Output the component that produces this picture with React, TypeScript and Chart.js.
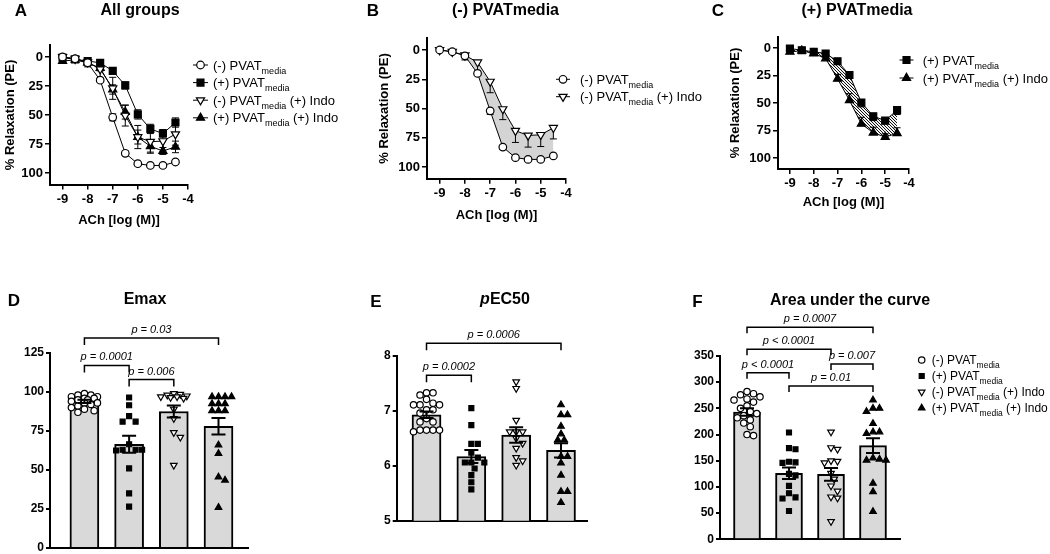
import React, { useEffect, useRef } from "react";
import { Chart, registerables } from "chart.js";

Chart.register(...registerables);

const FONT = "'Liberation Sans', Arial, Helvetica, sans-serif";
const PAGE_W = 1050;
const PAGE_H = 554;
const CANVAS_H = 620;

// ---------------- data ----------------
const GROUPS = ["(-) PVATmedia", "(+) PVATmedia", "(-) PVATmedia (+) Indo", "(+) PVATmedia (+) Indo"];

const LOG_ACH = [-9, -8.5, -8, -7.5, -7, -6.5, -6, -5.5, -5, -4.5];
const LOG_TICKS = [-9, -8, -7, -6, -5, -4];
const RELAX_TICKS = [0, 25, 50, 75, 100];

const RELAX_MINUS = [0, 1.5, 5, 20, 52, 83, 92, 93.5, 93.5, 90.5];
const RELAX_MINUS_SEM = [0.5, 0.5, 1, 1.5, 3, 2, 1, 1, 1, 1];
const RELAX_PLUS = [0.5, 2, 3.5, 5, 12, 24.5, 49.5, 62, 66, 56.5];
const RELAX_PLUS_SEM = [1, 1, 1, 1.5, 2, 3, 4, 4, 3, 4];
const RELAX_MINUS_INDO = [0, 1.5, 4.5, 10.5, 27, 50.5, 69, 73, 72.5, 66.5];
const RELAX_MINUS_INDO_SEM = [0.5, 1, 4, 7.5, 9.5, 9, 10, 10, 10, 9.5];
const RELAX_PLUS_INDO = [3.5, 2.5, 5, 9.5, 28, 47.5, 69, 77, 81, 77.5];
const RELAX_PLUS_INDO_SEM = [1, 1, 1.5, 2.5, 4, 6, 6, 5, 3, 5];

const EMAX_TICKS = [0, 25, 50, 75, 100, 125];
const EMAX_MEAN = [94, 66.5, 87.5, 78];
const EMAX_SEM = [1, 5.5, 3.8, 5.3];
const EMAX_MINUS = [99, 98, 98, 97, 97, 96, 96, 95, 95, 94, 93, 93, 92, 91, 90, 89, 88, 87];
const EMAX_PLUS = [96.5, 91.5, 84.5, 81, 81, 66.5, 63, 63, 63, 62.5, 51, 35, 26.5];
const EMAX_MINUS_INDO = [99, 98.5, 98, 97.5, 97, 97, 96.5, 96, 89, 83, 74, 71, 53];
const EMAX_PLUS_INDO = [97, 97, 97, 97, 92.5, 92.5, 92.5, 88, 88, 88, 66, 60.5, 45.5, 43.5, 26];
const EMAX_P = [
  { from: 0, to: 3, level: 134.6, text: "p = 0.03" },
  { from: 0, to: 1, level: 117, text: "p = 0.0001" },
  { from: 1, to: 2, level: 108, text: "p = 0.006" },
];

const PEC_TICKS = [5, 6, 7, 8];
const PEC_MEAN = [6.93, 6.17, 6.56, 6.28];
const PEC_SEM = [0.06, 0.12, 0.14, 0.13];
const PEC_MINUS = [7.33, 7.33, 7.29, 7.21, 7.14, 7.11, 7.11, 7.11, 7.02, 7.02, 6.96, 6.86, 6.8, 6.8, 6.65, 6.65, 6.65, 6.65, 6.62];
const PEC_PLUS = [7.05, 6.74, 6.4, 6.4, 6.24, 6.15, 6.06, 6.06, 6.06, 5.95, 5.83, 5.7, 5.57];
const PEC_MINUS_INDO = [7.53, 7.41, 6.83, 6.62, 6.62, 6.62, 6.5, 6.41, 6.32, 6.15, 6.09, 6.01];
const PEC_PLUS_INDO = [7.11, 6.93, 6.93, 6.72, 6.58, 6.47, 6.47, 6.17, 6.17, 6.05, 5.83, 5.53, 5.53, 5.33];
const PEC_P = [
  { from: 0, to: 3, level: 8.23, text: "p = 0.0006" },
  { from: 0, to: 1, level: 7.65, text: "p = 0.0002" },
];

const AUC_TICKS = [0, 50, 100, 150, 200, 250, 300, 350];
const AUC_MEAN = [243, 126, 124, 179];
const AUC_SEM = [7, 11, 12, 14];
const AUC_MINUS = [282, 278, 276, 272, 268, 266, 262, 255, 250, 244, 240, 236, 232, 228, 222, 215, 200, 198];
const AUC_PLUS = [204, 174, 172, 148, 147, 146, 125, 122, 102, 88, 80, 78, 54];
const AUC_MINUS_INDO = [205, 175, 172, 150, 149, 146, 126, 115, 102, 92, 81, 79, 34];
const AUC_PLUS_INDO = [266, 250, 250, 244, 221, 205, 205, 202, 155, 153, 151, 151, 107, 91, 53];
const AUC_P = [
  { from: 0, to: 3, level: 404.8, text: "p = 0.0007" },
  { from: 0, to: 2, level: 362.8, text: "p < 0.0001" },
  { from: 0, to: 1, level: 318.1, text: "p < 0.0001" },
  { from: 2, to: 3, level: 334.7, text: "p = 0.007" },
  { from: 1, to: 3, level: 292.7, text: "p = 0.01" },
];

// ---------------- styles ----------------
const GROUP_STYLE = [
  { style: "circle", rot: 0, fill: "#ffffff", rTop: 3.8, rBot: 3.2 },
  { style: "rect", rot: 0, fill: "#000000", rTop: 4.9, rBot: 3.5 },
  { style: "triangle", rot: 180, fill: "#ffffff", rTop: 4.7, rBot: 3.8 },
  { style: "triangle", rot: 0, fill: "#000000", rTop: 4.7, rBot: 3.8 },
];

type Area = { l: number; t: number; r: number; b: number };

function legendParts(name: string) {
  const i = name.indexOf("media");
  if (i < 0) return [{ t: name, sub: false }];
  return [
    { t: name.slice(0, i), sub: false },
    { t: "media", sub: true },
    { t: name.slice(i + 5), sub: false },
  ];
}

function drawMarker(ctx: CanvasRenderingContext2D, g: number, x: number, y: number, r: number, bw: number) {
  const st = GROUP_STYLE[g];
  ctx.beginPath();
  if (st.style === "circle") {
    ctx.arc(x, y, r, 0, Math.PI * 2);
  } else if (st.style === "rect") {
    const s = r * Math.SQRT1_2;
    ctx.rect(x - s, y - s, 2 * s, 2 * s);
  } else {
    const k = st.rot === 180 ? -1 : 1;
    ctx.moveTo(x, y - k * r);
    ctx.lineTo(x + 0.866 * r, y + k * 0.5 * r);
    ctx.lineTo(x - 0.866 * r, y + k * 0.5 * r);
    ctx.closePath();
  }
  ctx.fillStyle = st.fill;
  ctx.fill();
  ctx.lineWidth = bw;
  ctx.strokeStyle = "#000";
  ctx.stroke();
}

function legendPlugin(cfg: any) {
  return {
    id: "customLegend",
    afterDraw(chart: any) {
      const ctx: CanvasRenderingContext2D = chart.ctx;
      ctx.save();
      cfg.groups.forEach((g: number, i: number) => {
        const y = cfg.y + i * cfg.dy;
        if (cfg.half > 0) {
          ctx.beginPath();
          ctx.moveTo(cfg.x - cfg.half, y);
          ctx.lineTo(cfg.x + cfg.half, y);
          ctx.strokeStyle = "#000";
          ctx.lineWidth = 1;
          ctx.stroke();
        }
        drawMarker(ctx, g, cfg.x, y, cfg.r[g], 1.2);
        let tx = cfg.textX;
        ctx.fillStyle = "#000";
        ctx.textAlign = "left";
        ctx.textBaseline = "alphabetic";
        for (const part of legendParts(GROUPS[g])) {
          ctx.font = `${part.sub ? cfg.sub : cfg.size}px ${FONT}`;
          const yy = y + cfg.size * 0.36 + (part.sub ? cfg.size * 0.3 : 0);
          ctx.fillText(part.t, tx, yy);
          tx += ctx.measureText(part.t).width;
        }
      });
      ctx.restore();
    },
  };
}

function curveErrorPlugin(sets: any[]) {
  return {
    id: "curveErrors",
    beforeDatasetsDraw(chart: any) {
      const ctx: CanvasRenderingContext2D = chart.ctx;
      const xs = chart.scales.x;
      const ys = chart.scales.y;
      const cap = 3.5;
      ctx.save();
      ctx.strokeStyle = "#000";
      ctx.lineWidth = 1;
      for (const s of sets) {
        s.values.forEach((v: number, i: number) => {
          const e = s.errs[i];
          const x = xs.getPixelForValue(LOG_ACH[i]);
          const lo = s.dir > 0 ? v : v - e;
          const hi = s.dir < 0 ? v : v + e;
          const y1 = ys.getPixelForValue(lo);
          const y2 = ys.getPixelForValue(hi);
          ctx.beginPath();
          ctx.moveTo(x, y1);
          ctx.lineTo(x, y2);
          if (s.dir <= 0) {
            ctx.moveTo(x - cap, y1);
            ctx.lineTo(x + cap, y1);
          }
          if (s.dir >= 0) {
            ctx.moveTo(x - cap, y2);
            ctx.lineTo(x + cap, y2);
          }
          ctx.stroke();
        });
      }
      ctx.restore();
    },
  };
}

function semPlugin(means: number[], sems: number[]) {
  return {
    id: "semBars",
    afterDatasetsDraw(chart: any) {
      const ctx: CanvasRenderingContext2D = chart.ctx;
      const xs = chart.scales.x;
      const ys = chart.scales.y;
      const cap = 7;
      ctx.save();
      ctx.strokeStyle = "#000";
      ctx.lineWidth = 2;
      means.forEach((m, i) => {
        const x = xs.getPixelForValue(i);
        const y1 = ys.getPixelForValue(m + sems[i]);
        const y2 = ys.getPixelForValue(m - sems[i]);
        ctx.beginPath();
        ctx.moveTo(x, y1);
        ctx.lineTo(x, y2);
        ctx.moveTo(x - cap, y1);
        ctx.lineTo(x + cap, y1);
        ctx.moveTo(x - cap, y2);
        ctx.lineTo(x + cap, y2);
        ctx.stroke();
      });
      ctx.restore();
    },
  };
}

function bracketPlugin(list: any[], drop: number) {
  return {
    id: "brackets",
    afterDraw(chart: any) {
      const ctx: CanvasRenderingContext2D = chart.ctx;
      const xs = chart.scales.x;
      const ys = chart.scales.y;
      ctx.save();
      ctx.strokeStyle = "#000";
      ctx.lineWidth = 1.5;
      ctx.fillStyle = "#000";
      ctx.font = `italic 11px ${FONT}`;
      ctx.textAlign = "center";
      ctx.textBaseline = "alphabetic";
      for (const b of list) {
        const x1 = xs.getPixelForValue(b.from);
        const x2 = xs.getPixelForValue(b.to);
        const y = ys.getPixelForValue(b.level);
        ctx.beginPath();
        ctx.moveTo(x1, y + drop);
        ctx.lineTo(x1, y);
        ctx.lineTo(x2, y);
        ctx.lineTo(x2, y + drop);
        ctx.stroke();
        ctx.fillText(b.text, (x1 + x2) / 2, y - 5);
      }
      ctx.restore();
    },
  };
}

// horizontal spreading of overlapping points (layout only, values untouched)
function swarm(values: number[], pxPerY: number, pxPerX: number, d: number, maxOff: number): number[] {
  const idx = values.map((_, i) => i).sort((a, b) => values[b] - values[a]);
  const placed: { x: number; y: number }[] = [];
  const out = new Array(values.length).fill(0);
  const step = d * 0.5;
  for (const i of idx) {
    const y = values[i] * pxPerY;
    let chosen = 0;
    let bestScore = -1;
    for (let k = 0; k < 60; k++) {
      const c = k === 0 ? 0 : (k % 2 === 1 ? 1 : -1) * Math.ceil(k / 2) * step;
      if (Math.abs(c) > maxOff) break;
      let minD = Infinity;
      for (const p of placed) minD = Math.min(minD, Math.hypot(p.x - c, p.y - y));
      if (minD >= d) {
        chosen = c;
        break;
      }
      if (minD > bestScore + 0.01) {
        bestScore = minD;
        chosen = c;
      }
    }
    placed.push({ x: chosen, y });
    out[i] = chosen / pxPerX;
  }
  return out;
}

function makeHatch(): CanvasPattern | string {
  const n = 3;
  const c = document.createElement("canvas");
  c.width = n;
  c.height = n;
  const g = c.getContext("2d");
  if (!g) return "#888";
  g.fillStyle = "#f2f2f2";
  g.fillRect(0, 0, n, n);
  g.strokeStyle = "#111";
  g.lineWidth = 1;
  g.beginPath();
  g.moveTo(-1, -1);
  g.lineTo(n + 1, n + 1);
  g.moveTo(-1, n - 1);
  g.lineTo(1, n + 1);
  g.moveTo(n - 1, -1);
  g.lineTo(n + 1, 1);
  g.stroke();
  return g.createPattern(c, "repeat") || "#888";
}

function padFor(area: Area, yW: number, xH: number) {
  return { left: area.l - yW, top: area.t, right: PAGE_W - area.r, bottom: CANVAS_H - area.b - xH };
}

const tickFontTop = { family: FONT, size: 13, weight: "bold" as const };
const titleFontTop = { family: FONT, size: 13, weight: "bold" as const };
const tickFontBot = { family: FONT, size: 12, weight: "bold" as const };

// ---------------- panel specs ----------------
const CURVE_PANELS = [
  {
    area: { l: 50, t: 45.4, r: 188, b: 184.6 },
    yW: 47.8,
    xH: 43.2,
    series: [
      { values: RELAX_MINUS, errs: RELAX_MINUS_SEM, group: 0, dir: 0, fill: "" },
      { values: RELAX_PLUS, errs: RELAX_PLUS_SEM, group: 1, dir: 0, fill: "" },
      { values: RELAX_MINUS_INDO, errs: RELAX_MINUS_INDO_SEM, group: 2, dir: 0, fill: "" },
      { values: RELAX_PLUS_INDO, errs: RELAX_PLUS_INDO_SEM, group: 3, dir: 0, fill: "" },
    ],
    legend: { groups: [0, 1, 2, 3], x: 200.5, half: 7.5, textX: 213, y: 65, dy: 17.6, size: 13, sub: 9 },
  },
  {
    area: { l: 427, t: 38.3, r: 566, b: 178.7 },
    yW: 50.8,
    xH: 44.1,
    series: [
      { values: RELAX_MINUS, errs: RELAX_MINUS_SEM, group: 0, dir: 1, fill: "gray" },
      { values: RELAX_MINUS_INDO, errs: RELAX_MINUS_INDO_SEM, group: 2, dir: 1, fill: "" },
    ],
    legend: { groups: [0, 2], x: 563, half: 7, textX: 580, y: 79.3, dy: 17.4, size: 13, sub: 9 },
  },
  {
    area: { l: 778, t: 37, r: 909, b: 169 },
    yW: 50.8,
    xH: 41.5,
    series: [
      { values: RELAX_PLUS, errs: RELAX_PLUS_SEM, group: 1, dir: 1, fill: "hatch" },
      { values: RELAX_PLUS_INDO, errs: RELAX_PLUS_INDO_SEM, group: 3, dir: -1, fill: "" },
    ],
    legend: { groups: [1, 3], x: 906.5, half: 7, textX: 922.7, y: 60, dy: 18, size: 13, sub: 9 },
  },
];

const SUMMARY_PANELS = [
  {
    area: { l: 50, t: 353, r: 248, b: 548 },
    xMin: -0.77,
    xMax: 3.66,
    yMin: 0,
    yMax: 125,
    ticks: EMAX_TICKS,
    barW: 29,
    means: EMAX_MEAN,
    sems: EMAX_SEM,
    points: [EMAX_MINUS, EMAX_PLUS, EMAX_MINUS_INDO, EMAX_PLUS_INDO],
    brackets: EMAX_P,
    drop: 7,
    legend: null as any,
  },
  {
    area: { l: 396.7, t: 356, r: 587, b: 520.7 },
    xMin: -0.665,
    xMax: 3.58,
    yMin: 5,
    yMax: 8,
    ticks: PEC_TICKS,
    barW: 29,
    means: PEC_MEAN,
    sems: PEC_SEM,
    points: [PEC_MINUS, PEC_PLUS, PEC_MINUS_INDO, PEC_PLUS_INDO],
    brackets: PEC_P,
    drop: 7,
    legend: null as any,
  },
  {
    area: { l: 720, t: 356, r: 900, b: 539.3 },
    xMin: -0.643,
    xMax: 3.643,
    yMin: 0,
    yMax: 350,
    ticks: AUC_TICKS,
    barW: 27,
    means: AUC_MEAN,
    sems: AUC_SEM,
    points: [AUC_MINUS, AUC_PLUS, AUC_MINUS_INDO, AUC_PLUS_INDO],
    brackets: AUC_P,
    drop: 6,
    legend: { groups: [0, 1, 2, 3], x: 921.7, half: 0, textX: 931.7, y: 360, dy: 16, size: 12, sub: 8.5 },
  },
];

function curveConfig(p: any, hatch: any): any {
  const datasets = p.series.map((s: any) => {
    const g = GROUP_STYLE[s.group];
    return {
      type: "line",
      data: LOG_ACH.map((x, i) => ({ x, y: s.values[i] })),
      borderColor: "#000",
      borderWidth: 1,
      backgroundColor: s.fill === "gray" ? "#d4d4d4" : s.fill === "hatch" ? hatch : "rgba(0,0,0,0)",
      fill: s.fill ? "+1" : false,
      pointStyle: g.style,
      pointRotation: g.rot,
      pointRadius: g.rTop,
      pointHoverRadius: g.rTop,
      pointBackgroundColor: g.fill,
      pointBorderColor: "#000",
      pointBorderWidth: 1.2,
      tension: 0,
    };
  });
  const r = GROUP_STYLE.map((g) => g.rTop);
  return {
    type: "line",
    data: { datasets },
    options: {
      responsive: false,
      animation: false,
      devicePixelRatio: 1,
      events: [],
      layout: { padding: padFor(p.area, p.yW, p.xH) },
      plugins: {
        legend: { display: false },
        tooltip: { enabled: false },
        title: { display: false },
        colors: { enabled: false },
        filler: { drawTime: "beforeDatasetsDraw", propagate: false },
      },
      scales: {
        x: {
          type: "linear",
          min: -9.5,
          max: -4,
          afterBuildTicks: (s: any) => {
            s.ticks = LOG_TICKS.map((v) => ({ value: v }));
          },
          afterFit: (s: any) => {
            s.height = p.xH;
          },
          ticks: { font: tickFontTop, color: "#000", padding: 2, maxRotation: 0, autoSkip: false },
          grid: { display: true, drawOnChartArea: false, drawTicks: true, tickLength: 5, color: "#000", lineWidth: 1.5 },
          border: { display: true, color: "#000", width: 2 },
          title: { display: true, text: "ACh [log (M)]", font: titleFontTop, color: "#000", padding: 0 },
        },
        y: {
          type: "linear",
          reverse: true,
          min: -10,
          max: 110,
          afterBuildTicks: (s: any) => {
            s.ticks = RELAX_TICKS.map((v) => ({ value: v }));
          },
          afterFit: (s: any) => {
            s.width = p.yW;
          },
          ticks: { font: tickFontTop, color: "#000", padding: 2, autoSkip: false },
          grid: { display: true, drawOnChartArea: false, drawTicks: true, tickLength: 5, color: "#000", lineWidth: 1.5 },
          border: { display: true, color: "#000", width: 2 },
          title: { display: true, text: "% Relaxation (PE)", font: titleFontTop, color: "#000", padding: 0 },
        },
      },
    },
    plugins: [curveErrorPlugin(p.series), legendPlugin({ ...p.legend, r })],
  };
}

function summaryConfig(p: any): any {
  const w = p.area.r - p.area.l;
  const pxPerX = w / (p.xMax - p.xMin);
  const pxPerY = (p.area.b - p.area.t) / (p.yMax - p.yMin);
  const datasets: any[] = [
    {
      type: "bar",
      data: p.means.map((m: number, i: number) => ({ x: i, y: m })),
      backgroundColor: "#d9d9d9",
      borderColor: "#000",
      borderWidth: 2,
      barThickness: p.barW,
      order: 5,
    },
  ];
  p.points.forEach((vals: number[], g: number) => {
    const jit = swarm(vals, pxPerY, pxPerX, 6.5, p.barW / 2 - 0.5);
    const st = GROUP_STYLE[g];
    datasets.push({
      type: "scatter",
      data: vals.map((v, k) => ({ x: g + jit[k], y: v })),
      pointStyle: st.style,
      pointRotation: st.rot,
      pointRadius: st.rBot,
      pointHoverRadius: st.rBot,
      pointBackgroundColor: st.fill,
      pointBorderColor: "#000",
      pointBorderWidth: 1.2,
      borderColor: "#000",
      backgroundColor: st.fill,
      showLine: false,
      order: 1,
    });
  });
  const plugins: any[] = [semPlugin(p.means, p.sems), bracketPlugin(p.brackets, p.drop)];
  if (p.legend) plugins.push(legendPlugin({ ...p.legend, r: GROUP_STYLE.map((g) => g.rBot) }));
  return {
    type: "bar",
    data: { datasets },
    options: {
      responsive: false,
      animation: false,
      devicePixelRatio: 1,
      events: [],
      layout: { padding: padFor(p.area, 40, 4) },
      plugins: {
        legend: { display: false },
        tooltip: { enabled: false },
        title: { display: false },
        colors: { enabled: false },
      },
      scales: {
        x: {
          type: "linear",
          min: p.xMin,
          max: p.xMax,
          offset: false,
          afterFit: (s: any) => {
            s.height = 4;
          },
          ticks: { display: false },
          grid: { display: false },
          border: { display: true, color: "#000", width: 2 },
        },
        y: {
          type: "linear",
          min: p.yMin,
          max: p.yMax,
          afterBuildTicks: (s: any) => {
            s.ticks = p.ticks.map((v: number) => ({ value: v }));
          },
          afterFit: (s: any) => {
            s.width = 40;
          },
          ticks: { font: tickFontBot, color: "#000", padding: 2, autoSkip: false },
          grid: { display: true, drawOnChartArea: false, drawTicks: true, tickLength: 4, color: "#000", lineWidth: 2 },
          border: { display: true, color: "#000", width: 2 },
        },
      },
    },
    plugins,
  };
}

// ---------------- html text ----------------
const HEADINGS: { x: number; y: number; size: number; content: React.ReactNode }[] = [
  { x: 21, y: 9.5, size: 17, content: "A" },
  { x: 140, y: 9.5, size: 16, content: "All groups" },
  { x: 373, y: 9.5, size: 17, content: "B" },
  { x: 505.5, y: 9.5, size: 16, content: GROUPS[0] },
  { x: 718, y: 9.5, size: 17, content: "C" },
  { x: 857, y: 9.5, size: 16, content: GROUPS[1] },
  { x: 14, y: 300, size: 17, content: "D" },
  { x: 145, y: 298.5, size: 16, content: "Emax" },
  { x: 376, y: 301, size: 17, content: "E" },
  {
    x: 505,
    y: 299,
    size: 16,
    content: (
      <>
        <span style={{ fontStyle: "italic" }}>p</span>EC50
      </>
    ),
  },
  { x: 697.5, y: 301, size: 17, content: "F" },
  { x: 850, y: 300, size: 16, content: "Area under the curve" },
];

export default function App() {
  const canvases = useRef<(HTMLCanvasElement | null)[]>([]);

  useEffect(() => {
    const hatch = makeHatch();
    const charts: Chart[] = [];
    CURVE_PANELS.forEach((p, i) => {
      const c = canvases.current[i];
      if (c) charts.push(new Chart(c, curveConfig(p, hatch)));
    });
    SUMMARY_PANELS.forEach((p, i) => {
      const c = canvases.current[3 + i];
      if (c) charts.push(new Chart(c, summaryConfig(p)));
    });
    return () => {
      charts.forEach((ch) => ch.destroy());
    };
  }, []);

  return (
    <div
      style={{
        position: "absolute",
        left: 0,
        top: 0,
        width: PAGE_W,
        height: PAGE_H,
        overflow: "hidden",
        background: "#fff",
        fontFamily: FONT,
        color: "#000",
      }}
    >
      {[0, 1, 2, 3, 4, 5].map((i) => (
        <canvas
          key={i}
          ref={(el) => {
            canvases.current[i] = el;
          }}
          width={PAGE_W}
          height={CANVAS_H}
          style={{ position: "absolute", left: 0, top: 0, width: PAGE_W, height: CANVAS_H }}
        />
      ))}
      {HEADINGS.map((h, i) => (
        <div
          key={i}
          style={{
            position: "absolute",
            left: h.x,
            top: h.y,
            transform: "translate(-50%, -50%)",
            fontWeight: "bold",
            fontSize: h.size,
            lineHeight: `${h.size}px`,
            whiteSpace: "nowrap",
          }}
        >
          {h.content}
        </div>
      ))}
    </div>
  );
}
